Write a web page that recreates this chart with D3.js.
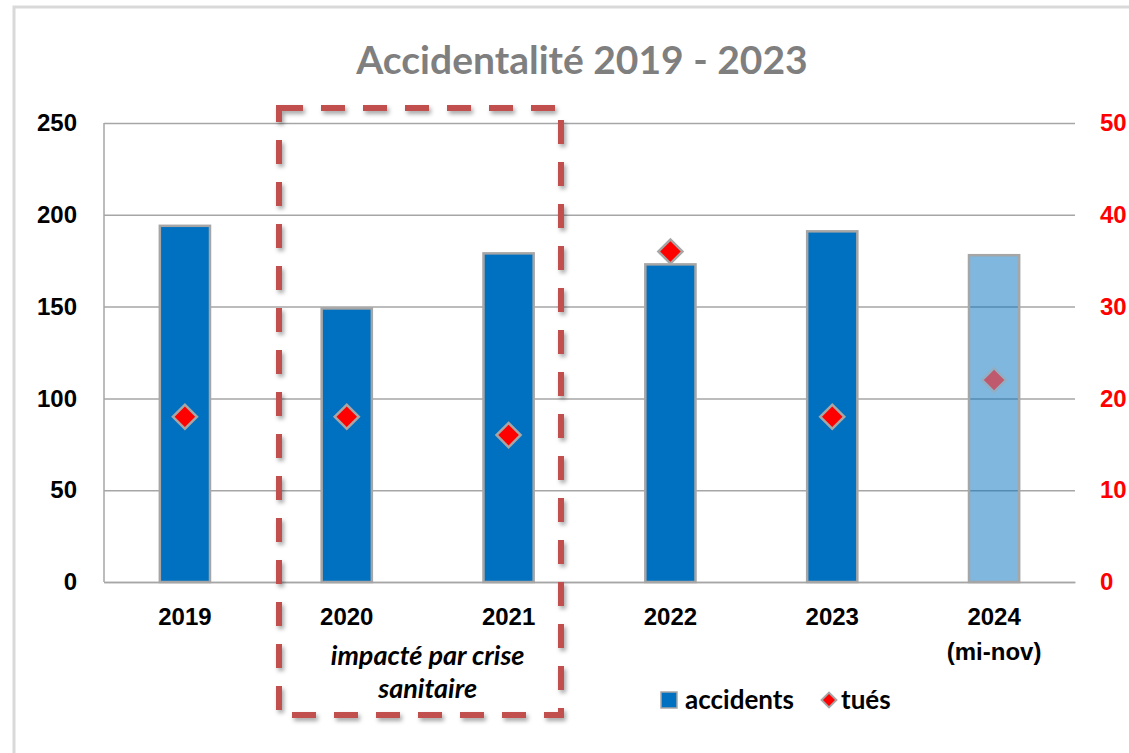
<!DOCTYPE html>
<html>
<head>
<meta charset="utf-8">
<script src="https://cdn.jsdelivr.net/npm/d3@7"></script>
<style>
  body { margin: 0; background: #fff; }
  svg { display: block; font-family: Lato, "Open Sans", sans-serif; }
</style>
</head>
<body>
<div class="container"></div>
<script>
const years = ['2019', '2020', '2021', '2022', '2023', '2024'];
const subLabels = ['', '', '', '', '', '(mi-nov)'];
const accidents = [194, 149, 179, 173, 191, 178];
const tues = [18, 18, 16, 36, 18, 22];
const leftTicks = [0, 50, 100, 150, 200, 250];
const rightTicks = [0, 10, 20, 30, 40, 50];
const partialYear = '2024';

window.onload = () => {
  const width = 1129;
  const height = 753;
  const left = 104;
  const right = 1075;
  const top = 123;
  const bottom = 582;
  const blue = '#0070c0';
  const grey = '#a6a6a6';

  const svg = d3.select('.container')
    .append('svg')
    .attr('width', width)
    .attr('height', height);

  const defs = svg.append('defs');
  defs.append('filter')
    .attr('id', 'shadow')
    .attr('x', '-10%').attr('y', '-10%')
    .attr('width', '120%').attr('height', '120%')
    .append('feDropShadow')
    .attr('dx', 2).attr('dy', 3)
    .attr('stdDeviation', 2)
    .attr('flood-color', '#000')
    .attr('flood-opacity', 0.35);

  // chart frame
  svg.append('rect')
    .attr('x', 14).attr('y', 7)
    .attr('width', 1300).attr('height', 900)
    .attr('fill', 'none')
    .attr('stroke', '#d9d9d9')
    .attr('stroke-width', 3);

  const x = d3.scaleBand()
    .domain(years)
    .range([left, right])
    .paddingInner(0.69)
    .paddingOuter(0.345);

  const yLeft = d3.scaleLinear().domain([0, 250]).range([bottom, top]);
  const yRight = d3.scaleLinear().domain([0, 50]).range([bottom, top]);

  // title
  svg.append('text')
    .attr('x', 582)
    .attr('y', 74)
    .attr('text-anchor', 'middle')
    .attr('font-size', 39)
    .attr('font-weight', 'bold')
    .attr('fill', '#7f7f7f')
    .text('Accidentalité 2019 - 2023');

  // left axis + gridlines
  const gLeft = svg.append('g')
    .attr('transform', `translate(${left},0)`)
    .call(d3.axisLeft(yLeft).tickValues(leftTicks).tickSize(-(right - left)).tickPadding(27));
  gLeft.select('.domain').remove();
  gLeft.selectAll('line').attr('stroke', grey).attr('stroke-width', 1.5);
  gLeft.selectAll('text')
    .attr('font-size', 24)
    .attr('font-weight', 'bold')
    .attr('fill', '#000');
  svg.append('line')
    .attr('x1', left).attr('x2', left)
    .attr('y1', top).attr('y2', bottom)
    .attr('stroke', grey).attr('stroke-width', 1.5);

  // right axis
  const gRight = svg.append('g')
    .attr('transform', `translate(${right},0)`)
    .call(d3.axisRight(yRight).tickValues(rightTicks).tickSize(0).tickPadding(25));
  gRight.select('.domain').remove();
  gRight.selectAll('text')
    .attr('font-size', 24)
    .attr('font-weight', 'bold')
    .attr('fill', '#ff0000');

  // x axis
  const gX = svg.append('g')
    .attr('transform', `translate(0,${bottom})`)
    .call(d3.axisBottom(x).tickSize(0).tickPadding(26));
  gX.select('.domain')
    .attr('stroke', grey).attr('stroke-width', 1.5);
  gX.selectAll('text')
    .attr('font-size', 24)
    .attr('font-weight', 'bold')
    .attr('fill', '#000')
    .each(function (d, i) {
      if (subLabels[i]) {
        d3.select(this).append('tspan')
          .attr('x', 0)
          .attr('dy', '1.45em')
          .attr('font-weight', 600)
          .text(subLabels[i]);
      }
    });

  // bars
  svg.append('g')
    .selectAll('rect')
    .data(years)
    .enter()
    .append('rect')
    .attr('x', d => x(d))
    .attr('y', (d, i) => yLeft(accidents[i]))
    .attr('width', x.bandwidth())
    .attr('height', (d, i) => bottom - yLeft(accidents[i]))
    .attr('fill', blue)
    .attr('fill-opacity', d => d === partialYear ? 0.5 : 1)
    .attr('stroke', grey)
    .attr('stroke-width', 2.5);

  // killed markers
  const diamond = d3.symbol().type(d3.symbolSquare).size(290);
  svg.append('g')
    .selectAll('path')
    .data(years)
    .enter()
    .append('path')
    .attr('d', diamond)
    .attr('transform', (d, i) => `translate(${x(d) + x.bandwidth() / 2},${yRight(tues[i])}) rotate(45)`)
    .attr('fill', '#ff0000')
    .attr('stroke', grey)
    .attr('stroke-width', 2.5)
    .attr('opacity', d => d === partialYear ? 0.5 : 1);

  // covid annotation
  const midX = (x('2020') + x('2021') + x.bandwidth()) / 2;
  const note = svg.append('text')
    .attr('x', midX)
    .attr('y', 665)
    .attr('text-anchor', 'middle')
    .attr('font-size', 27)
    .attr('font-weight', 'bold')
    .attr('font-style', 'italic')
    .attr('fill', '#000');
  note.append('tspan').attr('x', midX).text('impacté par crise');
  note.append('tspan').attr('x', midX).attr('dy', 33).text('sanitaire');

  svg.append('rect')
    .attr('x', 279).attr('y', 108)
    .attr('width', 282).attr('height', 607)
    .attr('fill', 'none')
    .attr('stroke', '#c0504d')
    .attr('stroke-width', 6)
    .attr('stroke-dasharray', '24,18')
    .attr('filter', 'url(#shadow)');

  // legend
  const legend = svg.append('g').attr('transform', 'translate(661,692)');
  legend.append('rect')
    .attr('width', 16).attr('height', 16)
    .attr('fill', blue)
    .attr('stroke', grey)
    .attr('stroke-width', 1.5);
  legend.append('text')
    .attr('x', 24).attr('y', 17)
    .attr('font-size', 26)
    .attr('font-weight', 'bold')
    .text('accidents');
  legend.append('path')
    .attr('d', d3.symbol().type(d3.symbolSquare).size(110))
    .attr('transform', 'translate(168,8) rotate(45)')
    .attr('fill', '#ff0000')
    .attr('stroke', grey)
    .attr('stroke-width', 2);
  legend.append('text')
    .attr('x', 180).attr('y', 17)
    .attr('font-size', 26)
    .attr('font-weight', 'bold')
    .text('tués');
};
</script>
</body>
</html>
